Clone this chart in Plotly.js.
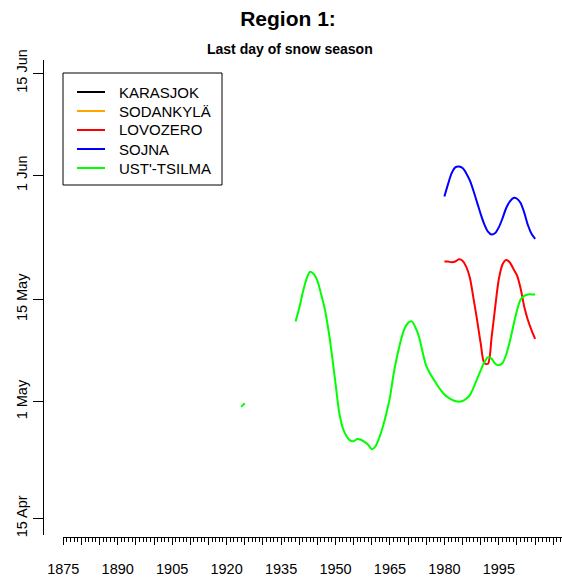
<!DOCTYPE html>
<html>
<head>
<meta charset="utf-8">
<script src="https://cdn.plot.ly/plotly-3.0.1.min.js"></script>
<style>html,body{margin:0;padding:0;background:#fff;}#chart{width:562px;height:582px;}</style>
</head>
<body>
<div id="chart"></div>
<script>
// Station names and colours (legend order)
const stations = ["KARASJOK", "SODANKYLÄ", "LOVOZERO", "SOJNA", "UST'-TSILMA"];
const stationColors = ["#000000", "#FFA500", "#FF0000", "#0000FF", "#00FF00"];

// Day-of-year values (last day of snow season, smoothed)
const karasjokYears = [];
const karasjokDays = [];
const sodankylaYears = [];
const sodankylaDays = [];

const lovozeroYears = [1980,1981,1982,1983,1984,1985,1986,1987,1988,1989,1990,1991,1992,1993,1994,1995,1996,1997,1998,1999,2000,2001,2002,2003,2004,2005];
const lovozeroDays  = [140.2,140.2,140.1,140.2,140.5,140.3,139.5,138.0,135.2,132.2,129.0,126.3,126.2,129.8,134.0,137.8,139.8,140.4,140.1,139.2,138.3,136.5,134.0,132.2,130.8,129.6];

const sojnaYears = [1980,1981,1982,1983,1984,1985,1986,1987,1988,1989,1990,1991,1992,1993,1994,1995,1996,1997,1998,1999,2000,2001,2002,2003,2004,2005];
const sojnaDays  = [149.1,150.8,152.3,153.1,153.2,153.0,152.3,151.3,149.9,148.3,146.7,145.3,144.3,143.9,144.1,144.9,146.1,147.5,148.4,148.9,148.8,148.2,146.9,145.2,144.0,143.3];

const ustYears = [1924,1925,1926,
  1939,1940,1941,1942,1943,1944,1945,1946,1947,1948,1949,
  1950,1951,1952,1953,1954,1955,1956,1957,1958,1959,
  1960,1961,1962,1963,1964,1965,1966,1967,1968,1969,
  1970,1971,1972,1973,1974,1975,1976,1977,1978,1979,
  1980,1981,1982,1983,1984,1985,1986,1987,1988,1989,
  1990,1991,1992,1993,1994,1995,1996,1997,1998,1999,
  2000,2001,2002,2003,2004,2005];
const ustDays = [120.3,120.8,null,
  132.0,133.8,136.0,137.8,138.8,138.5,137.6,135.8,133.8,131.0,127.5,
  123.5,119.6,117.4,116.3,115.7,115.6,115.9,115.8,115.5,115.1,
  114.5,114.9,116.0,117.5,119.4,121.6,124.8,127.3,129.4,131.0,
  131.8,132.0,131.2,129.9,127.8,125.9,124.9,124.1,123.3,122.6,
  122.0,121.6,121.3,121.1,121.0,121.1,121.4,121.9,122.9,124.1,
  125.3,126.4,127.1,126.9,126.2,126.0,126.3,127.4,129.2,131.4,
  133.5,135.0,135.5,135.7,135.7,135.7];

// Axis ticks
const yTickVals = [105, 121, 135, 152, 166];
const yTickText = ["15 Apr", "1 May", "15 May", "1 Jun", "15 Jun"];
const xMajorVals = [1875,1880,1885,1890,1895,1900,1905,1910,1915,1920,1925,1930,1935,1940,1945,1950,1955,1960,1965,1970,1975,1980,1985,1990,1995,2000,2005,2010];
const xMajorText = ["1875","","","1890","","","1905","","","1920","","","1935","","","1950","","","1965","","","1980","","","1995","","",""];

const seriesX = [karasjokYears, sodankylaYears, lovozeroYears, sojnaYears, ustYears];
const seriesY = [karasjokDays, sodankylaDays, lovozeroDays, sojnaDays, ustDays];

const FONT = "Liberation Sans, Arial, Helvetica, sans-serif";

const traces = stations.map((name, i) => ({
  type: "scatter",
  mode: "lines",
  name: name,
  x: seriesX[i],
  y: seriesY[i],
  connectgaps: false,
  line: {color: stationColors[i], width: 2, shape: "spline", smoothing: 0.8},
  showlegend: false
}));

const W = 562, H = 582;
const mL = 43, mR = 0, mT = 55, mB = 37;
const pw = W - mL - mR, ph = H - mT - mB;
const px = v => (v - mL) / pw;          // pixel x -> paper x
const py = v => (H - mB - v) / ph;      // pixel y -> paper y

// Legend box (R-style), built from the station arrays
const legBox = {x0: 63, y0: 73, x1: 222, y1: 185};
const legRow0 = 92, legRowStep = 19;
const shapes = [{
  type: "rect", xref: "paper", yref: "paper",
  x0: px(legBox.x0), x1: px(legBox.x1), y0: py(legBox.y1), y1: py(legBox.y0),
  line: {color: "#000", width: 1}, fillcolor: "#fff", layer: "above"
}];
const annotations = [{
  text: "<b>Last day of snow season</b>",
  xref: "paper", yref: "paper",
  x: px(289.5), y: py(49),
  xanchor: "center", yanchor: "middle",
  showarrow: false,
  font: {family: FONT, size: 14, color: "#000"}
}];
stations.forEach((name, i) => {
  const ry = legRow0 + i * legRowStep;
  shapes.push({
    type: "line", xref: "paper", yref: "paper",
    x0: px(77), x1: px(105), y0: py(ry), y1: py(ry),
    line: {color: stationColors[i], width: 2}, layer: "above"
  });
  annotations.push({
    text: name, xref: "paper", yref: "paper",
    x: px(117), y: py(ry), xanchor: "left", yanchor: "middle",
    showarrow: false,
    font: {family: FONT, size: 15, color: "#000"}
  });
});

const layout = {
  width: W, height: H,
  margin: {l: mL, r: mR, t: mT, b: mB, pad: 0},
  paper_bgcolor: "#fff",
  plot_bgcolor: "rgba(0,0,0,0)",
  font: {family: FONT, color: "#000", size: 14},
  title: {
    text: "<b>Region 1:</b>",
    font: {family: FONT, size: 21, color: "#000"},
    x: 288 / W, xref: "container", xanchor: "center",
    y: 1 - 19 / H, yref: "container", yanchor: "middle"
  },
  annotations: annotations,
  shapes: shapes,
  showlegend: false,
  xaxis: {
    domain: [20 / pw, 1],
    range: [1874.92, 2012.4],
    anchor: "free",
    position: (H - mB - 537) / ph,
    showline: true, linecolor: "#000", linewidth: 1,
    showgrid: false, zeroline: false,
    ticks: "outside", ticklen: 7, tickwidth: 1, tickcolor: "#000",
    tickmode: "array", tickvals: xMajorVals, ticktext: xMajorText,
    tickfont: {family: FONT, size: 14.5, color: "#000"},
    ticklabelstandoff: 12,
    minor: {dtick: 1, tick0: 1875, ticks: "outside", ticklen: 4, tickwidth: 1, tickcolor: "#000", showgrid: false}
  },
  yaxis: {
    domain: [(H - mB - 535) / ph, (H - mB - 60) / ph],
    range: [102.75, 167.8],
    anchor: "free",
    position: 0,
    showline: true, linecolor: "#000", linewidth: 1,
    showgrid: false, zeroline: false,
    ticks: "outside", ticklen: 10, tickwidth: 1, tickcolor: "#000",
    tickmode: "array", tickvals: yTickVals, ticktext: yTickText,
    tickangle: -90,
    tickfont: {family: FONT, size: 14.5, color: "#000"}
  }
};

Plotly.newPlot("chart", traces, layout, {staticPlot: true, displayModeBar: false});
</script>
</body>
</html>
